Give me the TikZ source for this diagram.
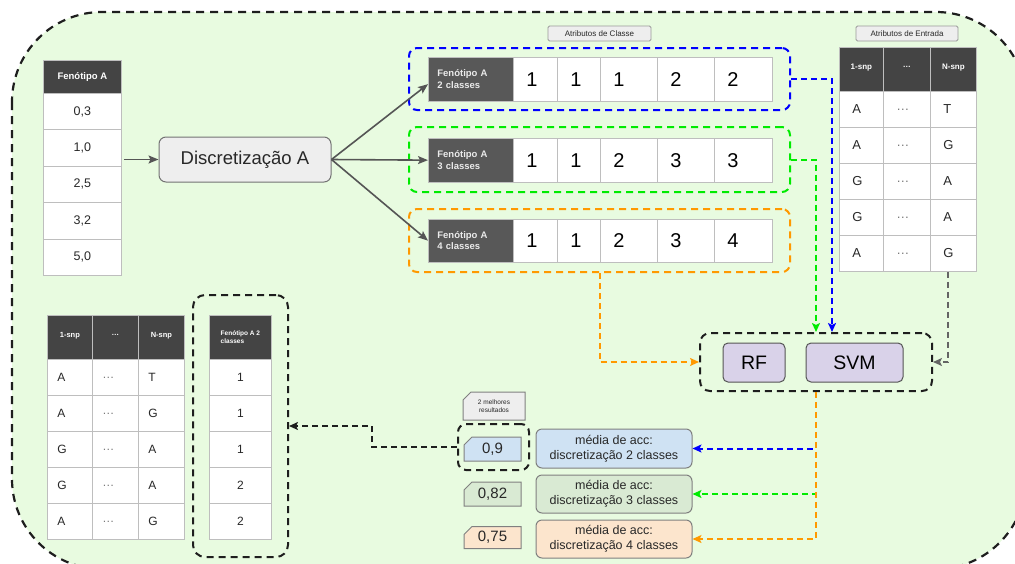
\documentclass[tikz,border=0pt]{standalone}
\usepackage{fontspec}
\setmainfont{Liberation Sans}
\usetikzlibrary{arrows.meta,shapes.misc,calc}
\newcommand{\fsz}[2]{\fontsize{#1}{#2}\selectfont}
\definecolor{bgg}{RGB}{232,251,224}
\definecolor{cellc}{RGB}{190,190,190}
\definecolor{hdrc}{RGB}{68,68,68}
\definecolor{chdr}{RGB}{88,88,88}
\definecolor{txtc}{RGB}{40,40,40}
\definecolor{dotc}{RGB}{120,120,120}
\definecolor{arrc}{RGB}{85,85,85}
\definecolor{dblue}{RGB}{0,0,255}
\definecolor{dgreen}{RGB}{0,235,0}
\definecolor{dorange}{RGB}{255,153,0}
\definecolor{dblack}{RGB}{30,30,30}
\definecolor{dgray}{RGB}{100,100,100}
\definecolor{lgray}{RGB}{238,238,238}
\definecolor{lav}{RGB}{217,210,233}
\definecolor{lblue}{RGB}{207,226,243}
\definecolor{lgreen}{RGB}{217,234,211}
\definecolor{lorange}{RGB}{252,229,205}
\begin{document}
\begin{tikzpicture}[x=1pt,y=-1pt,
  cell/.style={draw=cellc, line width=0.8pt, fill=white, inner sep=0pt, text=txtc, anchor=north west},
  hdr/.style={cell, fill=hdrc, text=white, font=\bfseries\fsz{8}{9.5}},
  val/.style={cell, font=\fsz{12.5}{15}},
  lval/.style={val, align=left},
  digit/.style={cell, font=\fsz{20}{24}, text=black, align=left, inner xsep=13pt, minimum height=43.5pt},
  chd/.style={cell, fill=chdr, text=white!92!black, font=\bfseries\fsz{9.5}{11.5}, align=left, inner xsep=9pt, text width=67pt, minimum height=43.5pt},
  dbox/.style={draw, dash pattern=on 7pt off 5pt, line width=2pt, rounded corners=8pt, inner sep=0pt, fill=none},
  conn/.style={line width=2pt, dash pattern=on 6pt off 4pt, -{Stealth[length=9pt,width=8pt,inset=2pt]}},
  sarr/.style={draw=arrc, line width=1.6pt, -{Stealth[length=10pt,width=8pt,inset=2pt]}},
  tag/.style={draw=gray!80, fill=lgray, line width=0.8pt, inner sep=0pt, rounded corners=1.5pt, text=txtc},
  model/.style={draw=arrc, fill=lav, line width=1pt, rounded corners=5pt, inner sep=0pt, minimum height=39pt, font=\fsz{19.5}{23}, text=black},
  accb/.style={draw=gray, line width=1pt, rounded corners=6pt, inner sep=0pt, minimum width=156pt, align=center, font=\fsz{12.5}{15}, text=txtc},
  card/.style={chamfered rectangle, chamfered rectangle corners=north west, chamfered rectangle xsep=4pt, chamfered rectangle ysep=4pt, draw=gray, line width=1pt, inner sep=0pt, minimum width=57pt, font=\fsz{15}{18}, text=txtc},
]
\path[use as bounding box] (0,0) rectangle (1015,563);
\draw[fill=bgg, draw=dblack, line width=2.2pt, dash pattern=on 8pt off 6pt, rounded corners=90pt] (12,12) rectangle (1026,569);

% left table
\node[hdr, minimum width=78pt, minimum height=33pt, font=\bfseries\fsz{9.5}{11}] (ft-h) at (43,60) {Fenótipo A};
\foreach \i/\y/\v in {1/93/{0,3},2/129.4/{1,0},3/165.8/{2,5},4/202.2/{3,2},5/238.6/{5,0}}
  \node[val, minimum width=78pt, minimum height=36.4pt] (ft-\i) at (43,\y) {\v};

% discretization
\node[draw=gray!90!black, fill=lgray, line width=1pt, rounded corners=7pt, minimum width=172pt, minimum height=45pt, inner sep=0pt, font=\fsz{18.5}{22}, text=txtc] (disc) at (245,159.5) {Discretização A};

% class rows
\node[chd] (c2h) at (428,57) {Fenótipo A\\2 classes};
\foreach \i/\x/\w/\t/\v in {1/513/44pt/18pt/1,2/557/43pt/17pt/1,3/600/57pt/31pt/1,4/657/57pt/31pt/2,5/714/58pt/32pt/2}
  \node[digit, minimum width=\w, text width=\t] (c2-\i) at (\x,57) {\v};
\node[chd] (c3h) at (428,138) {Fenótipo A\\3 classes};
\foreach \i/\x/\w/\t/\v in {1/513/44pt/18pt/1,2/557/43pt/17pt/1,3/600/57pt/31pt/2,4/657/57pt/31pt/3,5/714/58pt/32pt/3}
  \node[digit, minimum width=\w, text width=\t] (c3-\i) at (\x,138) {\v};
\node[chd] (c4h) at (428,218.5) {Fenótipo A\\4 classes};
\foreach \i/\x/\w/\t/\v in {1/513/44pt/18pt/1,2/557/43pt/17pt/1,3/600/57pt/31pt/2,4/657/57pt/31pt/3,5/714/58pt/32pt/4}
  \node[digit, minimum width=\w, text width=\t] (c4-\i) at (\x,218.5) {\v};

\node[dbox, draw=dblue, minimum width=381pt, minimum height=62pt] (box2) at (599.5,79) {};
\node[dbox, draw=dgreen, minimum width=381pt, minimum height=65pt] (box3) at (599.5,159.5) {};
\node[dbox, draw=dorange, minimum width=381pt, minimum height=63pt] (box4) at (599.5,240.5) {};

\node[tag, minimum width=103pt, minimum height=15pt, font=\fsz{8}{9.5}] (lbl-cl) at (599.5,33.5) {Atributos de Classe};
\node[tag, minimum width=102pt, minimum height=15pt, font=\fsz{8}{9.5}] (lbl-en) at (907,33.5) {Atributos de Entrada};

% right table
\foreach \j/\x/\w/\h in {1/839/44pt/1-snp, 2/883/47pt/{…}, 3/930/46pt/N-snp}
  \node[hdr, minimum width=\w, minimum height=44pt] (et-h\j) at (\x,47) {\raisebox{5pt}{\h}};
\foreach \i/\y/\a/\b in {1/91/A/T,2/127/A/G,3/163/G/A,4/199/G/A,5/235/A/G} {
  \node[lval, font=\fsz{13}{15}, minimum width=44pt, text width=18pt, inner xsep=13pt, minimum height=36pt] (et-\i-1) at (839,\y) {\a};
  \node[lval, font=\fsz{13}{15}, minimum width=47pt, text width=21pt, inner xsep=13pt, minimum height=36pt, text=dotc] (et-\i-2) at (883,\y) {\raisebox{-2pt}{…}};
  \node[lval, font=\fsz{13}{15}, minimum width=46pt, text width=20pt, inner xsep=13pt, minimum height=36pt] (et-\i-3) at (930,\y) {\b};
}

% models
\node[dbox, draw=dblack, rounded corners=10pt, minimum width=232pt, minimum height=58pt] (ml) at (816,362) {};
\node[model, minimum width=62pt] (rf) at (754,362.5) {RF};
\node[model, minimum width=97pt] (svm) at (854.5,362.5) {SVM};

% accuracies
\node[accb, fill=lblue, minimum height=39pt] (acc2) at (614,448.5) {média de acc:\\discretização 2 classes};
\node[accb, fill=lgreen, minimum height=38pt] (acc3) at (614,494) {média de acc:\\discretização 3 classes};
\node[accb, fill=lorange, minimum height=38pt] (acc4) at (614,539) {média de acc:\\discretização 4 classes};

\node[card, fill=lblue, minimum height=24pt] (v9) at (492.5,449) {0,9};
\node[card, fill=lgreen, minimum height=24pt] (v82) at (492.5,494) {0,82};
\node[card, fill=lorange, minimum height=22pt] (v75) at (492.5,537.5) {0,75};
\node[card, fill=lgray, minimum width=62pt, minimum height=28pt, font=\fsz{6.5}{8}, align=center] (best) at (494,406) {2 melhores\\resultados};
\node[dbox, draw=dblack, minimum width=71pt, minimum height=46pt] (v9box) at (493.5,447) {};

% bottom-left table
\foreach \j/\x/\w/\h in {1/47/45pt/1-snp, 2/92/46pt/{…}, 3/138/46pt/N-snp}
  \node[hdr, font=\bfseries\fsz{7.5}{9}, minimum width=\w, minimum height=44pt] (bt-h\j) at (\x,315) {\raisebox{5pt}{\h}};
\foreach \i/\y/\a/\b in {1/359/A/T,2/395/A/G,3/431/G/A,4/467/G/A,5/503/A/G} {
  \node[lval, font=\fsz{12}{14}, minimum width=45pt, text width=25pt, inner xsep=10pt, minimum height=36pt] (bt-\i-1) at (47,\y) {\a};
  \node[lval, font=\fsz{12}{14}, minimum width=46pt, text width=26pt, inner xsep=10pt, minimum height=36pt, text=dotc] (bt-\i-2) at (92,\y) {\raisebox{-2pt}{…}};
  \node[lval, font=\fsz{12}{14}, minimum width=46pt, text width=26pt, inner xsep=10pt, minimum height=36pt] (bt-\i-3) at (138,\y) {\b};
}
\node[hdr, font=\bfseries\fsz{6.5}{8}, minimum width=62pt, minimum height=44pt, align=left] (fc-h) at (209,315) {Fenótipo A 2\\classes};
\foreach \i/\y/\v in {1/359/1,2/395/1,3/431/1,4/467/2,5/503/2}
  \node[val, font=\fsz{12}{14}, minimum width=62pt, minimum height=36pt] (fc-\i) at (209,\y) {\v};
\node[dbox, draw=dblack, rounded corners=12pt, minimum width=95pt, minimum height=262pt] (fbox) at (240.5,426) {};

% connectors
\draw[sarr, shorten <=2pt] (disc.west -| ft-1.east) -- (disc.west);
\draw[sarr] (disc.east) -- ([yshift=-5pt]c2h.west);
\draw[sarr] (disc.east) -- (c3h.west);
\draw[sarr] (disc.east) -- (c4h.west);

\draw[conn, dblue] (box2.east) -| ([xshift=16pt]ml.north);
\draw[conn, dgreen] (box3.east) -| (ml.north);
\draw[conn, dorange] (box4.south) |- (ml.west);
\draw[conn, dgray] ([xshift=-5pt]et-5-3.south) |- (ml.east);

\draw[conn, dblue] (ml.south) |- (acc2.east);
\draw[conn, dgreen] (ml.south) |- (acc3.east);
\draw[conn, dorange] (ml.south) |- (acc4.east);

\draw[conn, dblack] (v9box.west) -- ++(-85,0) |- (fbox.east);
\end{tikzpicture}
\end{document}
